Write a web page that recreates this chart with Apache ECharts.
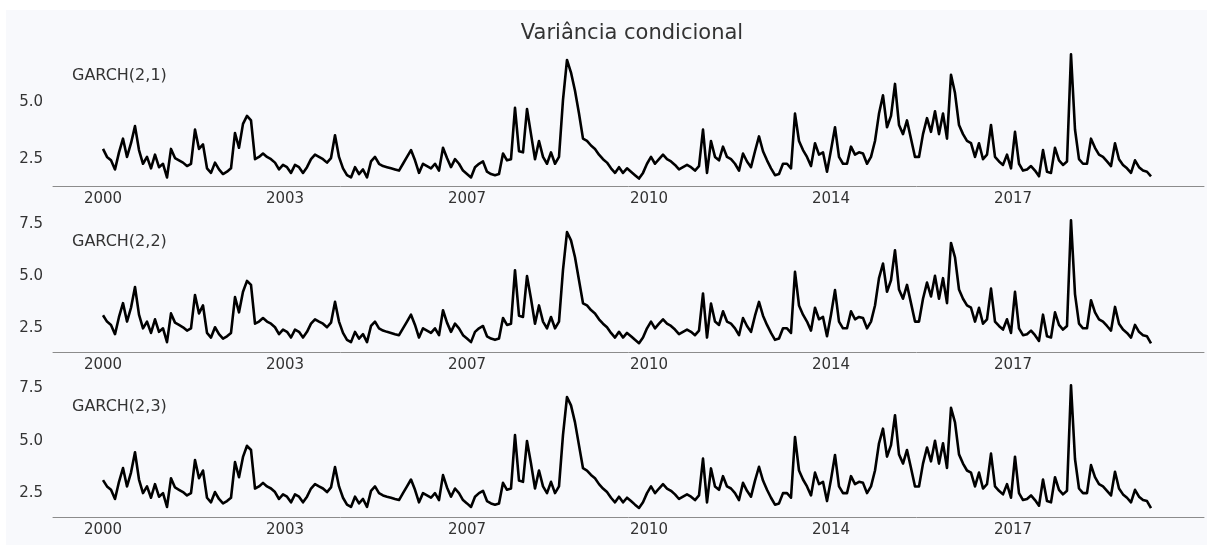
<!DOCTYPE html>
<html>
<head>
<meta charset="utf-8">
<script src="https://cdn.jsdelivr.net/npm/echarts@6/dist/echarts.min.js"></script>
<style>
html,body{margin:0;padding:0;background:#ffffff;}
#wrap{position:absolute;left:6px;top:10px;width:1201px;height:535px;background:#f8f9fc;}
#chart{position:absolute;left:-6px;top:-10px;width:1207px;height:545px;}
</style>
</head>
<body>
<div id="wrap"><div id="chart"></div></div>
<script>
// Weekly observations (every 4th week sampled), week index 0 = start of 2000
const sampleStepWeeks = 4;
const tickWeeks = [0, 182, 364, 546, 728, 910];
const tickLabels = ['2000', '2003', '2007', '2010', '2014', '2017'];
const panelNames = ['GARCH(2,1)', 'GARCH(2,2)', 'GARCH(2,3)'];
const yTicks1 = [2.5, 5.0];
const yTicks23 = [2.5, 5.0, 7.5];

const garch21 = [
2.95,2.6,2.45,2.05,2.8,3.4,2.6,3.2,3.95,2.9,
2.3,2.6,2.1,2.7,2.15,2.3,1.7,2.95,2.55,2.45,
2.35,2.2,2.3,3.8,2.95,3.15,2.1,1.9,2.35,2.05,
1.85,1.95,2.1,3.65,3.0,4.05,4.4,4.2,2.5,2.6,
2.75,2.6,2.5,2.35,2.05,2.25,2.15,1.9,2.25,2.15,
1.9,2.15,2.5,2.7,2.6,2.5,2.35,2.55,3.55,2.6,
2.1,1.8,1.7,2.15,1.85,2.05,1.7,2.4,2.6,2.3,
2.2,2.15,2.1,2.05,2.0,
2.3,2.6,2.9,2.45,1.9,
2.3,2.2,2.1,2.3,2.0,3.0,2.55,2.15,2.5,2.3,
2.0,1.85,1.7,2.15,2.3,2.4,1.95,1.85,1.8,1.85,
2.75,2.45,2.5,4.75,2.85,2.8,4.7,3.6,2.5,3.3,
2.6,2.3,2.8,2.3,2.6,5.1,6.85,6.3,5.5,4.5,
3.4,3.3,3.1,2.95,2.7,2.5,2.35,2.1,1.9,2.15,
1.9,2.1,1.95,1.8,1.65,1.9,2.3,2.6,2.3,2.5,
2.7,2.5,2.4,2.25,2.05,2.15,2.25,2.15,2.0,2.2,
3.8,1.9,3.3,2.6,2.45,3.05,2.6,2.5,2.3,2.0,
2.75,2.4,2.15,2.85,3.5,2.85,2.45,2.1,1.8,1.85,
2.3,2.3,2.1,4.5,3.3,
2.9,2.6,2.2,3.2,2.7,2.8,1.95,2.9,3.9,2.6,
2.3,2.3,3.05,2.7,2.8,2.75,2.3,2.6,3.3,4.5,
5.3,3.9,4.4,5.8,4.0,3.6,4.2,3.4,2.6,2.6,
3.6,4.3,3.7,4.6,3.6,4.5,3.4,6.2,5.4,4.0,
3.6,3.3,3.2,2.6,3.2,2.5,2.7,4.0,2.6,2.4,
2.25,2.7,2.1,3.7,2.3,2.0,2.05,2.2,2.0,1.75,
2.9,1.95,1.9,3.0,2.45,2.25,2.4,7.1,3.8,2.5,
2.3,2.3,3.4,3.0,2.7,2.6,2.4,2.2,3.2,2.5,
2.25,2.1,1.9,2.45,2.15,2.0,1.95,1.75
];

const garch22 = [
3.13,2.83,2.67,2.23,3.05,3.71,2.83,3.49,4.48,3.16,
2.51,2.83,2.29,2.94,2.34,2.51,1.85,3.22,2.78,2.67,
2.56,2.4,2.51,4.1,3.22,3.6,2.29,2.07,2.56,2.23,
2.02,2.13,2.29,4.0,3.27,4.25,4.77,4.58,2.73,2.83,
3.0,2.83,2.73,2.56,2.23,2.45,2.34,2.07,2.45,2.34,
2.07,2.34,2.73,2.94,2.83,2.73,2.56,2.78,3.77,2.83,
2.29,1.96,1.85,2.34,2.02,2.23,1.85,2.62,2.83,2.51,
2.4,2.34,2.29,2.23,2.18,
2.51,2.83,3.16,2.67,2.07,
2.51,2.4,2.29,2.51,2.18,3.37,2.78,2.34,2.73,2.51,
2.18,2.02,1.85,2.34,2.51,2.62,2.13,2.02,1.96,2.02,
3.0,2.67,2.73,5.28,3.11,3.05,5.0,3.92,2.73,3.6,
2.83,2.51,3.05,2.51,2.83,5.3,7.1,6.7,5.9,4.8,
3.7,3.6,3.38,3.22,2.94,2.73,2.56,2.29,2.07,2.34,
2.07,2.29,2.13,1.96,1.8,2.07,2.51,2.83,2.51,2.73,
2.94,2.73,2.62,2.45,2.23,2.34,2.45,2.34,2.18,2.4,
4.17,2.07,3.69,2.83,2.67,3.32,2.83,2.73,2.51,2.18,
3.0,2.62,2.34,3.11,3.77,3.11,2.67,2.29,1.96,2.02,
2.51,2.51,2.29,5.2,3.6,
3.16,2.83,2.4,3.49,2.94,3.05,2.13,3.16,4.33,2.83,
2.51,2.51,3.32,2.94,3.05,3.0,2.51,2.83,3.6,4.9,
5.6,4.25,4.8,6.23,4.36,3.92,4.58,3.71,2.83,2.83,
3.92,4.69,4.03,5.01,3.92,4.9,3.71,6.58,5.89,4.36,
3.92,3.6,3.49,2.83,3.49,2.73,2.94,4.4,2.83,2.62,
2.45,2.94,2.29,4.25,2.51,2.18,2.23,2.4,2.18,1.91,
3.16,2.13,2.07,3.27,2.67,2.45,2.62,7.66,4.14,2.73,
2.51,2.51,3.85,3.27,2.94,2.83,2.62,2.4,3.53,2.73,
2.45,2.29,2.07,2.67,2.34,2.18,2.13,1.79
];

const garch23 = [
3.12,2.82,2.66,2.22,3.04,3.7,2.82,3.48,4.45,3.15,
2.5,2.82,2.28,2.93,2.33,2.5,1.84,3.21,2.77,2.66,
2.55,2.39,2.5,4.08,3.21,3.58,2.28,2.06,2.55,2.22,
2.01,2.12,2.28,3.98,3.26,4.23,4.76,4.56,2.72,2.82,
2.99,2.82,2.72,2.55,2.22,2.44,2.33,2.06,2.44,2.33,
2.06,2.33,2.72,2.93,2.82,2.72,2.55,2.77,3.75,2.82,
2.28,1.95,1.84,2.33,2.01,2.22,1.84,2.61,2.82,2.5,
2.39,2.33,2.28,2.22,2.17,
2.5,2.82,3.15,2.66,2.06,
2.5,2.39,2.28,2.5,2.17,3.36,2.77,2.33,2.72,2.5,
2.17,2.01,1.84,2.33,2.5,2.61,2.12,2.01,1.95,2.01,
2.99,2.66,2.72,5.27,3.1,3.04,4.99,3.91,2.72,3.58,
2.82,2.5,3.04,2.5,2.82,5.28,7.09,6.69,5.88,4.78,
3.69,3.58,3.37,3.21,2.93,2.72,2.55,2.28,2.06,2.33,
2.06,2.28,2.12,1.95,1.79,2.06,2.5,2.82,2.5,2.72,
2.93,2.72,2.61,2.44,2.22,2.33,2.44,2.33,2.17,2.39,
4.15,2.06,3.68,2.82,2.66,3.31,2.82,2.72,2.5,2.17,
2.99,2.61,2.33,3.1,3.76,3.1,2.66,2.28,1.95,2.01,
2.5,2.5,2.28,5.18,3.58,
3.15,2.82,2.39,3.48,2.93,3.04,2.12,3.15,4.32,2.82,
2.5,2.5,3.31,2.93,3.04,2.99,2.5,2.82,3.58,4.88,
5.58,4.24,4.79,6.22,4.35,3.91,4.56,3.7,2.82,2.82,
3.91,4.68,4.02,5.0,3.91,4.88,3.7,6.57,5.88,4.35,
3.91,3.58,3.48,2.82,3.48,2.72,2.93,4.39,2.82,2.61,
2.44,2.93,2.28,4.24,2.5,2.17,2.22,2.39,2.17,1.9,
3.15,2.12,2.06,3.26,2.66,2.44,2.61,7.65,4.13,2.72,
2.5,2.5,3.84,3.26,2.93,2.82,2.61,2.39,3.52,2.72,
2.44,2.28,2.06,2.66,2.33,2.17,2.12,1.78
];

const seriesValues = [garch21, garch22, garch23];

const FONT = 'DejaVu Sans';
const TXT = '#333333';
const grids = [
  {left: 53, right: 3, top: 48, height: 138},
  {left: 53, right: 3, top: 214, height: 138},
  {left: 53, right: 3, top: 379, height: 138}
];
const yRanges = [[1.325, 7.375], [1.38, 7.96], [1.36, 7.95]];
const yTickSets = [yTicks1, yTicks23, yTicks23];
const labelTops = [63, 229, 394];

function toPairs(arr) {
  return arr.map((v, k) => [k * sampleStepWeeks, v]);
}

const xAxes = grids.map((g, i) => ({
  type: 'value', gridIndex: i, min: -50, max: 1101,
  axisLine: {show: true, lineStyle: {color: '#8c8c8c', width: 1}},
  axisTick: {show: false},
  splitLine: {show: false},
  axisLabel: {
    customValues: tickWeeks,
    formatter: v => tickLabels[tickWeeks.indexOf(v)] || '',
    color: TXT, fontFamily: FONT, fontSize: 15, margin: 6
  }
}));
const yAxes = grids.map((g, i) => ({
  type: 'value', gridIndex: i, min: yRanges[i][0], max: yRanges[i][1],
  axisLine: {show: false}, axisTick: {show: false}, splitLine: {show: false},
  axisLabel: {
    customValues: yTickSets[i],
    formatter: v => v.toFixed(1),
    color: TXT, fontFamily: FONT, fontSize: 15, margin: 10
  }
}));
const series = seriesValues.map((arr, i) => ({
  type: 'line', xAxisIndex: i, yAxisIndex: i, data: toPairs(arr),
  showSymbol: false, symbol: 'none',
  lineStyle: {color: '#000000', width: 2.6, join: 'round'},
  z: 3
}));
const titles = [{
  text: 'Variância condicional', left: 627, top: 18, textAlign: 'center',
  textStyle: {fontFamily: FONT, fontSize: 21, fontWeight: 'normal', color: TXT}
}].concat(panelNames.map((n, i) => ({
  text: n, left: 67, top: labelTops[i],
  textStyle: {fontFamily: FONT, fontSize: 16, fontWeight: 'normal', color: TXT}
})));

const chart = echarts.init(document.getElementById('chart'), null, {renderer: 'canvas'});
chart.setOption({
  animation: false,
  backgroundColor: 'transparent',
  title: titles,
  grid: grids,
  xAxis: xAxes,
  yAxis: yAxes,
  series: series
});
</script>
</body>
</html>
